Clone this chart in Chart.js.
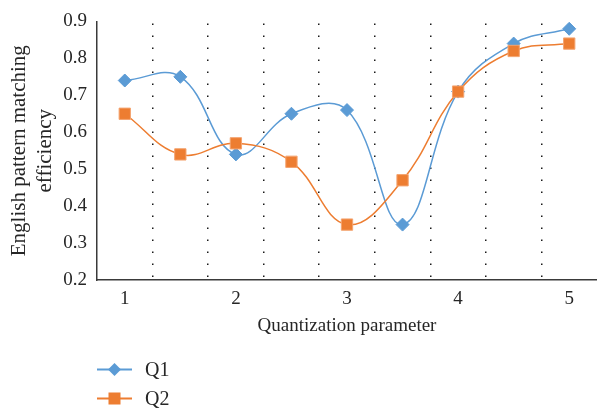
<!DOCTYPE html>
<html>
<head>
<meta charset="utf-8">
<script src="https://cdn.jsdelivr.net/npm/chart.js@4.4.1/dist/chart.umd.min.js"></script>
<style>
  html, body { margin: 0; padding: 0; background: #ffffff; }
  #wrap { position: relative; width: 597px; height: 409px; }
  #chart { position: absolute; left: 0; top: 0; }
  #legend { position: absolute; left: 97px; top: 355px; font-family: 'Liberation Serif', 'DejaVu Serif', serif; font-size: 20px; color: #262626; }
  .item { display: flex; align-items: center; height: 29px; }
  .item svg { margin-right: 13px; }
</style>
</head>
<body>
<div id="wrap">
  <canvas id="chart" width="597" height="409"></canvas>
  <div id="legend"></div>
</div>
<script>
// Quantization parameter positions along the x axis
const paramValues = [1, 1.5, 2, 2.5, 3, 3.5, 4, 4.5, 5];
// English pattern matching efficiency per series
const q1Values = [0.74, 0.75, 0.54, 0.65, 0.66, 0.35, 0.71, 0.84, 0.88];
const q2Values = [0.65, 0.54, 0.57, 0.52, 0.35, 0.47, 0.71, 0.82, 0.84];
const seriesNames = ['Q1', 'Q2'];
const xTickLabels = ['1', '2', '3', '4', '5'];
const yTickValues = [0.2, 0.3, 0.4, 0.5, 0.6, 0.7, 0.8, 0.9];

const BLUE = '#5b9bd5';
const ORANGE = '#ed7d31';
const TEXT = '#262626';

Chart.defaults.font.family = "'Liberation Serif', 'DejaVu Serif', serif";
Chart.defaults.color = TEXT;

const toPoints = vals => vals.map((v, i) => ({ x: paramValues[i], y: v }));

const chart = new Chart(document.getElementById('chart'), {
  type: 'line',
  data: {
    datasets: [
      {
        label: seriesNames[0],
        data: toPoints(q1Values),
        borderColor: BLUE,
        backgroundColor: BLUE,
        borderWidth: 1.5,
        tension: 0.4,
        pointStyle: 'rectRot',
        pointRadius: 6.5,
        pointBorderWidth: 1,
        pointBorderColor: BLUE,
        pointBackgroundColor: BLUE,
        order: 1
      },
      {
        label: seriesNames[1],
        data: toPoints(q2Values),
        borderColor: ORANGE,
        backgroundColor: ORANGE,
        borderWidth: 1.5,
        tension: 0.4,
        pointStyle: 'rect',
        pointRadius: 8,
        pointBorderWidth: 1,
        pointBorderColor: '#f4a470',
        pointBackgroundColor: ORANGE,
        order: 0
      }
    ]
  },
  options: {
    responsive: false,
    devicePixelRatio: 1,
    animation: false,
    layout: { autoPadding: false, padding: { top: 18, right: 0, bottom: 69, left: 0 } },
    plugins: {
      legend: { display: false },
      tooltip: { enabled: false }
    },
    scales: {
      x: {
        type: 'linear',
        min: 0.75,
        max: 5.25,
        afterFit: s => { s.height = 60; s.paddingLeft = 0; s.paddingRight = 0; },
        ticks: {
          stepSize: 0.25,
          autoSkip: false,
          maxRotation: 0,
          padding: 8,
          font: { size: 19 },
          color: TEXT,
          callback: v => {
            const idx = xTickLabels.indexOf(String(v));
            return idx >= 0 ? xTickLabels[idx] : '';
          }
        },
        grid: {
          drawTicks: false,
          lineWidth: 1.5,
          color: ctx => {
            const v = ctx.tick ? ctx.tick.value : null;
            if (v === null) return 'rgba(0,0,0,0)';
            const frac = Math.abs(v - Math.floor(v));
            return (frac === 0.25 || frac === 0.75) && v > 0.75 && v < 5.25 ? '#1a1a1a' : 'rgba(0,0,0,0)';
          }
        },
        border: { display: true, color: '#3a3a3a', width: 1.5, dash: [1.5, 10.5], dashOffset: -2 },
        title: {
          display: true,
          text: 'Quantization parameter',
          font: { size: 19, lineHeight: 1.2 },
          color: TEXT,
          padding: { top: 0, bottom: 3 }
        }
      },
      y: {
        min: 0.2,
        max: 0.9,
        afterFit: s => { s.width = 97; },
        afterBuildTicks: s => { s.ticks = yTickValues.map(v => ({ value: v })); },
        ticks: {
          padding: 10,
          font: { size: 19 },
          color: TEXT,
          callback: v => Number(v).toFixed(1)
        },
        grid: { display: false, drawTicks: false },
        border: { display: true, color: '#3a3a3a', width: 1.5 },
        title: {
          display: true,
          text: ['English pattern matching', 'efficiency'],
          font: { size: 21, lineHeight: 1.25 },
          color: TEXT,
          padding: { top: 6, bottom: 0 }
        }
      }
    }
  }
});

// Vertical legend below the plot, built from the chart's datasets
const legendEl = document.getElementById('legend');
chart.data.datasets.forEach(ds => {
  const row = document.createElement('div');
  row.className = 'item';
  const marker = ds.pointStyle === 'rect'
    ? `<rect x="11.5" y="5.5" width="12" height="12" fill="${ds.pointBackgroundColor}"/>`
    : `<polygon points="17.5,5 24,11.5 17.5,18 11,11.5" fill="${ds.pointBackgroundColor}"/>`;
  row.innerHTML = `<svg width="35" height="23" viewBox="0 0 35 23"><line x1="0" y1="11.5" x2="35" y2="11.5" stroke="${ds.borderColor}" stroke-width="2"/>${marker}</svg><span>${ds.label}</span>`;
  legendEl.appendChild(row);
});
</script>
</body>
</html>
